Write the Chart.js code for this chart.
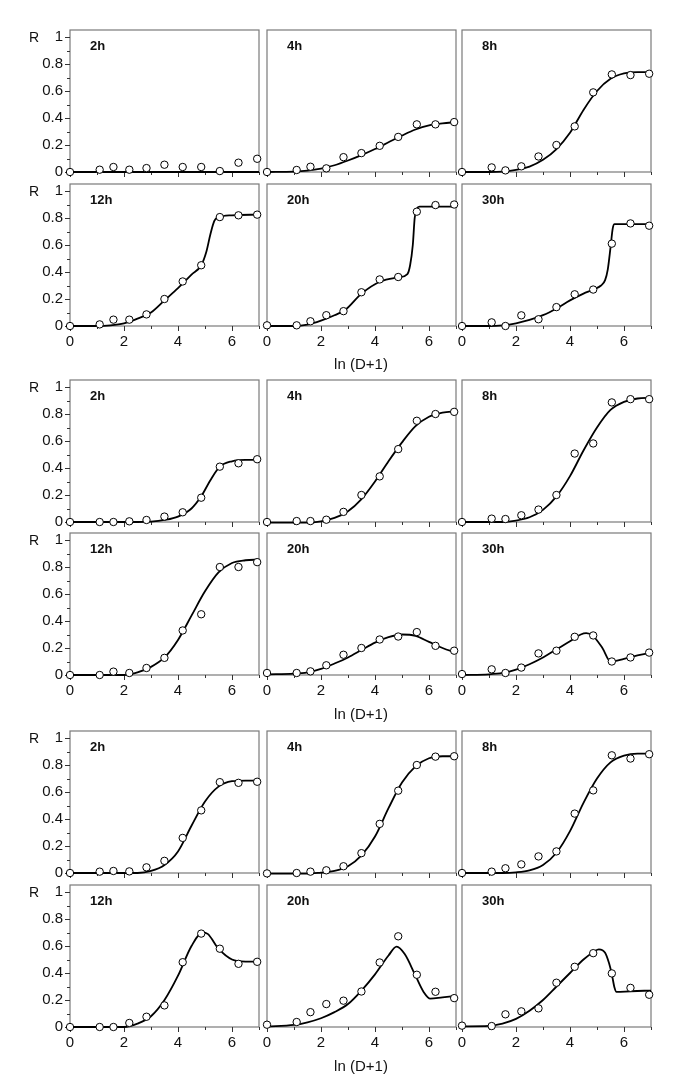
<!DOCTYPE html>
<html>
<head>
<meta charset="utf-8">
<script src="https://cdn.jsdelivr.net/npm/chart.js@4.4.0/dist/chart.umd.min.js"></script>
<style>
html, body { margin: 0; padding: 0; background: #fff; }
#fig { position: relative; width: 685px; height: 1089px; overflow: hidden;
  font-family: "Liberation Sans", Arial, Helvetica, sans-serif; color: #111; }
#fig canvas { position: absolute; }
.lbl { position: absolute; transform: translate(-50%, -50%); white-space: nowrap; }
</style>
</head>
<body>
<div id="fig"></div>
<script>
// ---- data -------------------------------------------------
// x = ln(D+1) for D = 0, 2, 4, ... 1024
var lnD = [0, 1.099, 1.609, 2.197, 2.833, 3.497, 4.174, 4.860, 5.549, 6.240, 6.932];
var panelNames = ['2h', '4h', '8h', '12h', '20h', '30h'];
var xTicks = [0, 1, 2, 3, 4, 5, 6, 7];
var yTicks = [0, 0.1, 0.2, 0.3, 0.4, 0.5, 0.6, 0.7, 0.8, 0.9, 1];

// group 1 (top)
var g1_2h  = [0, 0.017, 0.037, 0.017, 0.029, 0.054, 0.037, 0.037, 0.007, 0.069, 0.098];
var g1_4h  = [0, 0.015, 0.039, 0.027, 0.11, 0.14, 0.194, 0.26, 0.353, 0.353, 0.37];
var g1_8h  = [0, 0.034, 0.012, 0.042, 0.115, 0.2, 0.338, 0.59, 0.723, 0.718, 0.728];
var g1_12h = [0, 0.012, 0.047, 0.047, 0.086, 0.2, 0.33, 0.45, 0.807, 0.82, 0.825];
var g1_20h = [0.005, 0.005, 0.035, 0.08, 0.11, 0.25, 0.345, 0.363, 0.847, 0.896, 0.9];
var g1_30h = [0, 0.027, 0, 0.079, 0.05, 0.14, 0.235, 0.27, 0.61, 0.76, 0.743];

var fit_g1_2h  = [[0,0],[7,0]];
var fit_g1_4h  = [[0,0],[1,0.003],[1.5,0.01],[2,0.025],[2.5,0.05],[3,0.085],[3.5,0.125],[4,0.17],[4.5,0.22],[5,0.27],[5.5,0.315],[6,0.345],[6.5,0.36],[7,0.37]];
var fit_g1_8h  = [[0,0],[1,0],[1.5,0.003],[2,0.015],[2.5,0.04],[3,0.09],[3.5,0.17],[4,0.29],[4.5,0.46],[5,0.6],[5.5,0.69],[6,0.73],[6.5,0.74],[7,0.74]];
var fit_g1_12h = [[0,0],[1,0],[1.5,0.005],[2,0.02],[2.5,0.055],[3,0.1],[3.5,0.19],[4,0.28],[4.5,0.38],[4.86,0.45],[5.05,0.55],[5.2,0.68],[5.35,0.78],[5.5,0.805],[6,0.82],[7,0.825]];
var fit_g1_20h = [[0,0],[1,0],[1.5,0.01],[2,0.04],[2.5,0.08],[2.9,0.12],[3.5,0.24],[4.2,0.33],[4.86,0.36],[5.2,0.385],[5.3,0.45],[5.4,0.6],[5.47,0.8],[5.55,0.87],[5.65,0.885],[7,0.885]];
var fit_g1_30h = [[0,0],[1,0],[1.5,0.005],[2,0.02],[2.5,0.045],[3,0.08],[3.5,0.13],[4,0.19],[4.5,0.24],[4.86,0.27],[5.15,0.3],[5.3,0.34],[5.4,0.42],[5.5,0.58],[5.58,0.72],[5.65,0.755],[7,0.755]];

// group 2 (middle)
var g2_2h  = [0, 0, 0, 0.005, 0.015, 0.04, 0.072, 0.18, 0.41, 0.435, 0.465];
var g2_4h  = [0, 0.007, 0.007, 0.017, 0.075, 0.2, 0.338, 0.54, 0.75, 0.8, 0.816];
var g2_8h  = [0, 0.025, 0.022, 0.05, 0.092, 0.2, 0.507, 0.582, 0.886, 0.91, 0.91];
var g2_12h = [0, 0, 0.025, 0.015, 0.052, 0.127, 0.33, 0.45, 0.8, 0.8, 0.836];
var g2_20h = [0.015, 0.015, 0.027, 0.072, 0.15, 0.2, 0.263, 0.285, 0.318, 0.216, 0.18];
var g2_30h = [0.007, 0.042, 0.015, 0.055, 0.16, 0.18, 0.283, 0.293, 0.1, 0.13, 0.166];

var fit_g2_2h  = [[0,0],[2.5,0],[3,0.003],[3.5,0.015],[4,0.04],[4.5,0.1],[4.86,0.19],[5.2,0.31],[5.55,0.41],[6,0.45],[6.5,0.46],[7,0.46]];
var fit_g2_4h  = [[0,-0.005],[1.5,-0.005],[2,0.005],[2.5,0.03],[3,0.08],[3.5,0.17],[4,0.3],[4.5,0.45],[5,0.59],[5.5,0.71],[6,0.78],[6.5,0.81],[7,0.82]];
var fit_g2_8h  = [[0,0],[1.5,0],[2,0.01],[2.5,0.035],[3,0.09],[3.5,0.19],[4,0.34],[4.5,0.53],[5,0.7],[5.5,0.83],[6,0.89],[6.5,0.915],[7,0.92]];
var fit_g2_12h = [[0,0],[2,0],[2.5,0.02],[3,0.06],[3.5,0.13],[4,0.26],[4.5,0.44],[5,0.62],[5.5,0.76],[6,0.83],[6.5,0.85],[7,0.855]];
var fit_g2_20h = [[0,0.005],[1,0.01],[1.5,0.02],[2,0.045],[2.5,0.085],[3,0.13],[3.5,0.185],[4,0.24],[4.5,0.28],[5,0.3],[5.5,0.29],[6,0.245],[6.5,0.2],[7,0.165]];
var fit_g2_30h = [[0,0],[1,0.005],[1.5,0.015],[2,0.04],[2.5,0.08],[3,0.13],[3.5,0.19],[4,0.25],[4.4,0.3],[4.6,0.31],[4.85,0.29],[5.2,0.2],[5.5,0.1],[6,0.12],[6.5,0.145],[7,0.165]];

// group 3 (bottom)
var g3_2h  = [0, 0.01, 0.015, 0.012, 0.042, 0.09, 0.26, 0.464, 0.673, 0.668, 0.676];
var g3_4h  = [-0.003, 0, 0.01, 0.02, 0.05, 0.147, 0.364, 0.61, 0.8, 0.862, 0.865];
var g3_8h  = [0, 0.01, 0.035, 0.064, 0.123, 0.16, 0.44, 0.612, 0.872, 0.848, 0.88];
var g3_12h = [0, 0, 0, 0.03, 0.076, 0.16, 0.48, 0.692, 0.58, 0.468, 0.483];
var g3_20h = [0.017, 0.037, 0.11, 0.17, 0.195, 0.263, 0.478, 0.672, 0.387, 0.261, 0.214];
var g3_30h = [0.01, 0.007, 0.094, 0.116, 0.138, 0.328, 0.446, 0.547, 0.397, 0.29, 0.239];

var fit_g3_2h  = [[0,0],[2.5,0],[3,0.015],[3.5,0.06],[4,0.16],[4.5,0.35],[5,0.53],[5.5,0.64],[6,0.68],[6.5,0.685],[7,0.685]];
var fit_g3_4h  = [[0,-0.005],[1.5,-0.005],[2,0.003],[2.5,0.015],[3,0.05],[3.5,0.13],[4,0.27],[4.5,0.48],[5,0.67],[5.5,0.79],[6,0.85],[6.5,0.865],[7,0.865]];
var fit_g3_8h  = [[0,0],[1.5,0],[2,0.005],[2.5,0.02],[3,0.06],[3.5,0.15],[4,0.31],[4.5,0.52],[5,0.7],[5.5,0.82],[6,0.87],[6.5,0.885],[7,0.885]];
var fit_g3_12h = [[0,0],[2,0],[2.5,0.025],[3,0.08],[3.5,0.2],[4,0.38],[4.5,0.6],[4.9,0.7],[5.1,0.69],[5.5,0.58],[6,0.5],[6.5,0.485],[7,0.485]];
var fit_g3_20h = [[0,0.005],[1,0.015],[1.5,0.035],[2,0.065],[2.5,0.11],[3,0.17],[3.5,0.27],[4,0.39],[4.5,0.53],[4.8,0.595],[5.1,0.54],[5.5,0.38],[5.8,0.26],[6.05,0.21],[6.5,0.22],[7,0.23]];
var fit_g3_30h = [[0,0.005],[1,0.008],[1.5,0.025],[2,0.06],[2.5,0.12],[3,0.2],[3.5,0.3],[4,0.4],[4.5,0.5],[4.9,0.56],[5.07,0.575],[5.3,0.55],[5.45,0.47],[5.55,0.39],[5.65,0.29],[5.72,0.26],[6.24,0.265],[7,0.27]];

var groupPts = [
  [g1_2h, g1_4h, g1_8h, g1_12h, g1_20h, g1_30h],
  [g2_2h, g2_4h, g2_8h, g2_12h, g2_20h, g2_30h],
  [g3_2h, g3_4h, g3_8h, g3_12h, g3_20h, g3_30h]
];
var groupFits = [
  [fit_g1_2h, fit_g1_4h, fit_g1_8h, fit_g1_12h, fit_g1_20h, fit_g1_30h],
  [fit_g2_2h, fit_g2_4h, fit_g2_8h, fit_g2_12h, fit_g2_20h, fit_g2_30h],
  [fit_g3_2h, fit_g3_4h, fit_g3_8h, fit_g3_12h, fit_g3_20h, fit_g3_30h]
];

// ---- layout ----------------------------------------------
var colLeft = [70, 267, 462];
var rowBottom = [172, 326, 522, 675, 873, 1027];
var plotW = 189, plotH = 142, yMax = 1.052;
var padL = 50, padT = 20, padR = 14, padB = 40;
var FONT = '"Liberation Sans", Arial, Helvetica, sans-serif';

var fig = document.getElementById('fig');

var framePlugin = {
  id: 'frame',
  beforeDatasetsDraw: function(chart, args, opts) {
    var a = chart.chartArea, ctx = chart.ctx;
    var xs = chart.scales.x, ys = chart.scales.y;
    ctx.save();
    ctx.strokeStyle = '#7a7a7a';
    ctx.lineWidth = 1.2;
    ctx.strokeRect(a.left, a.top, a.right - a.left, a.bottom - a.top);
    ctx.strokeStyle = '#333';
    ctx.lineWidth = 1;
    ctx.beginPath();
    xTicks.forEach(function(v) {
      var px = Math.round(xs.getPixelForValue(v)) + 0.5;
      ctx.moveTo(px, a.bottom);
      ctx.lineTo(px, a.bottom + (v % 2 === 0 ? 5 : 3));
    });
    if (opts.leftAxis) {
      yTicks.forEach(function(v, i) {
        var py = Math.round(ys.getPixelForValue(v)) + 0.5;
        ctx.moveTo(a.left, py);
        ctx.lineTo(a.left - (i % 2 === 0 ? 5 : 3), py);
      });
    }
    ctx.stroke();
    ctx.fillStyle = '#111';
    ctx.font = 'bold 13px ' + FONT;
    ctx.textBaseline = 'alphabetic';
    ctx.fillText(opts.label, a.left + 20, a.top + 20);
    ctx.restore();
  }
};

function addLabel(text, x, y, size) {
  var d = document.createElement('div');
  d.className = 'lbl';
  d.textContent = text;
  d.style.left = x + 'px';
  d.style.top = y + 'px';
  d.style.fontSize = size + 'px';
  fig.appendChild(d);
}

function makePanel(g, p) {
  var row = g * 2 + Math.floor(p / 3);
  var col = p % 3;
  var bottomRow = p >= 3;
  var leftCol = col === 0;
  var plotTop = rowBottom[row] - plotH;

  var cv = document.createElement('canvas');
  cv.width = padL + plotW + padR;
  cv.height = padT + plotH + padB;
  cv.style.left = (colLeft[col] - padL) + 'px';
  cv.style.top = (plotTop - padT) + 'px';
  fig.appendChild(cv);

  var pts = groupPts[g][p], fit = groupFits[g][p];

  new Chart(cv, {
    type: 'scatter',
    data: {
      datasets: [
        { data: pts.map(function(y, i) { return { x: lnD[i], y: y }; }),
          pointRadius: 3.7, pointBackgroundColor: '#fff', pointBorderColor: '#000',
          pointBorderWidth: 1, showLine: false, clip: false },
        { data: fit.map(function(q) { return { x: q[0], y: q[1] }; }),
          showLine: true, pointRadius: 0, borderColor: '#000', borderWidth: 1.8,
          cubicInterpolationMode: 'monotone', clip: false }
      ]
    },
    options: {
      responsive: false, animation: false, devicePixelRatio: 1,
      layout: { padding: { left: 0, top: padT, right: padR, bottom: 0 } },
      plugins: {
        legend: { display: false }, tooltip: { enabled: false },
        frame: { label: panelNames[p], leftAxis: leftCol }
      },
      scales: {
        x: {
          type: 'linear', min: 0, max: 7,
          afterBuildTicks: function(s) { s.ticks = xTicks.map(function(v) { return { value: v }; }); },
          afterFit: function(s) { s.height = padB; },
          grid: { display: false, drawTicks: false }, border: { display: false },
          ticks: { display: bottomRow, autoSkip: false, maxRotation: 0, padding: 7, color: '#111',
            font: { size: 15, family: FONT },
            callback: function(v) { return v % 2 === 0 ? String(v) : ''; } }
        },
        y: {
          type: 'linear', min: 0, max: yMax,
          afterBuildTicks: function(s) { s.ticks = yTicks.map(function(v) { return { value: v }; }); },
          afterFit: function(s) { s.width = padL; },
          grid: { display: false, drawTicks: false }, border: { display: false },
          ticks: { display: leftCol, autoSkip: false, padding: 7, color: '#111',
            font: { size: 15, family: FONT },
            callback: function(v, i) { return i % 2 === 0 ? String(v) : ''; } }
        }
      }
    },
    plugins: [framePlugin]
  });
}

for (var g = 0; g < 3; g++) {
  for (var p = 0; p < 6; p++) makePanel(g, p);
}

// axis titles
rowBottom.forEach(function(b) { addLabel('R', 34, b - 135, 14); });
[363, 713, 1065].forEach(function(y) { addLabel('ln (D+1)', 361, y, 15); });
</script>
</body>
</html>
